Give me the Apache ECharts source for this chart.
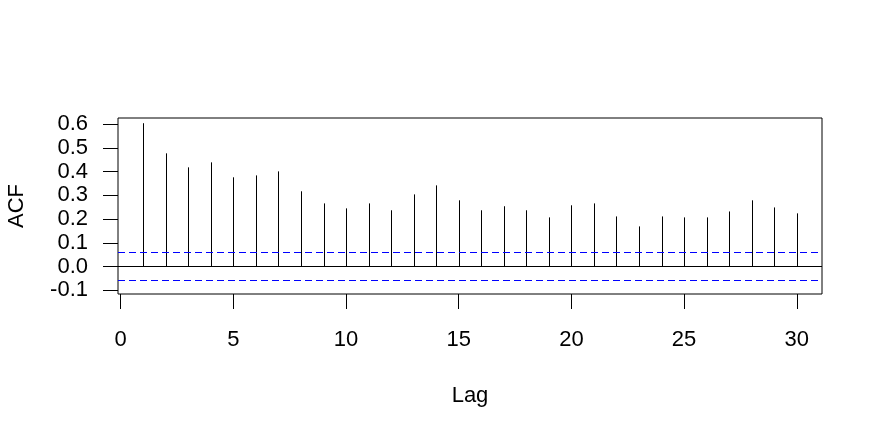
<!DOCTYPE html>
<html>
<head>
<meta charset="utf-8">
<script src="https://cdn.jsdelivr.net/npm/echarts@6/dist/echarts.min.js"></script>
<style>html,body{margin:0;padding:0;background:#fff}#c{width:883px;height:441px}</style>
</head>
<body>
<div id="c"></div>
<script>
const lags = [1,2,3,4,5,6,7,8,9,10,11,12,13,14,15,16,17,18,19,20,21,22,23,24,25,26,27,28,29,30];
const acf = [0.604,0.477,0.418,0.439,0.376,0.384,0.401,0.317,0.266,0.245,
             0.266,0.237,0.304,0.342,0.279,0.237,0.254,0.237,0.207,0.258,
             0.266,0.211,0.169,0.211,0.207,0.207,0.232,0.279,0.249,0.224];
const ciBound = 0.057;
const xTicks = [0,5,10,15,20,25,30];
const yTicks = [-0.1,0,0.1,0.2,0.3,0.4,0.5,0.6];

const font = 'Liberation Sans, Arial, sans-serif';
const chart = echarts.init(document.getElementById('c'), null, {renderer:'canvas'});
chart.setOption({
  animation:false,
  backgroundColor:'#fff',
  grid:{left:118,right:61,top:118,bottom:147,show:true,borderColor:'#000',borderWidth:1,backgroundColor:'transparent',
    containLabel:false,outerBoundsMode:'none'},
  xAxis:{type:'value',min:-0.12,max:31.12,
    name:'Lag',nameLocation:'middle',nameGap:91,
    nameTextStyle:{fontFamily:font,fontSize:22,color:'#000'},
    axisLine:{show:false,onZero:false},
    axisTick:{show:true,length:15,inside:false,customValues:xTicks,lineStyle:{color:'#000',width:1}},
    axisLabel:{customValues:xTicks,margin:35,fontFamily:font,fontSize:22,color:'#000'},
    splitLine:{show:false}},
  yAxis:{type:'value',min:-0.116,max:0.626,
    name:'ACF',nameLocation:'middle',nameGap:90,nameRotate:90,
    nameTextStyle:{fontFamily:font,fontSize:22,color:'#000'},
    axisLine:{show:false,onZero:false},
    axisTick:{show:true,length:15,inside:false,customValues:yTicks,lineStyle:{color:'#000',width:1}},
    axisLabel:{customValues:yTicks,margin:30,fontFamily:font,fontSize:22,color:'#000',
      formatter:v=>Number(v).toFixed(1)},
    splitLine:{show:false}},
  series:[{
    type:'custom',
    data:lags.map((l,i)=>[l,acf[i]]),
    renderItem:function(params,api){
      const p0 = api.coord([api.value(0),0]);
      const p1 = api.coord([api.value(0),api.value(1)]);
      const x = Math.round(p0[0])+0.5;
      return {type:'line',shape:{x1:x,y1:p0[1],x2:x,y2:p1[1]},style:{stroke:'#000',lineWidth:1}};
    },
    markLine:{silent:true,symbol:['none','none'],label:{show:false},
      data:[
        {yAxis:0,lineStyle:{color:'#000',type:'solid',width:1}},
        {yAxis:ciBound,lineStyle:{color:'#0000ff',type:[7,4],width:1}},
        {yAxis:-ciBound,lineStyle:{color:'#0000ff',type:[7,4],width:1}}
      ]}
  }]
});
</script>
</body>
</html>
